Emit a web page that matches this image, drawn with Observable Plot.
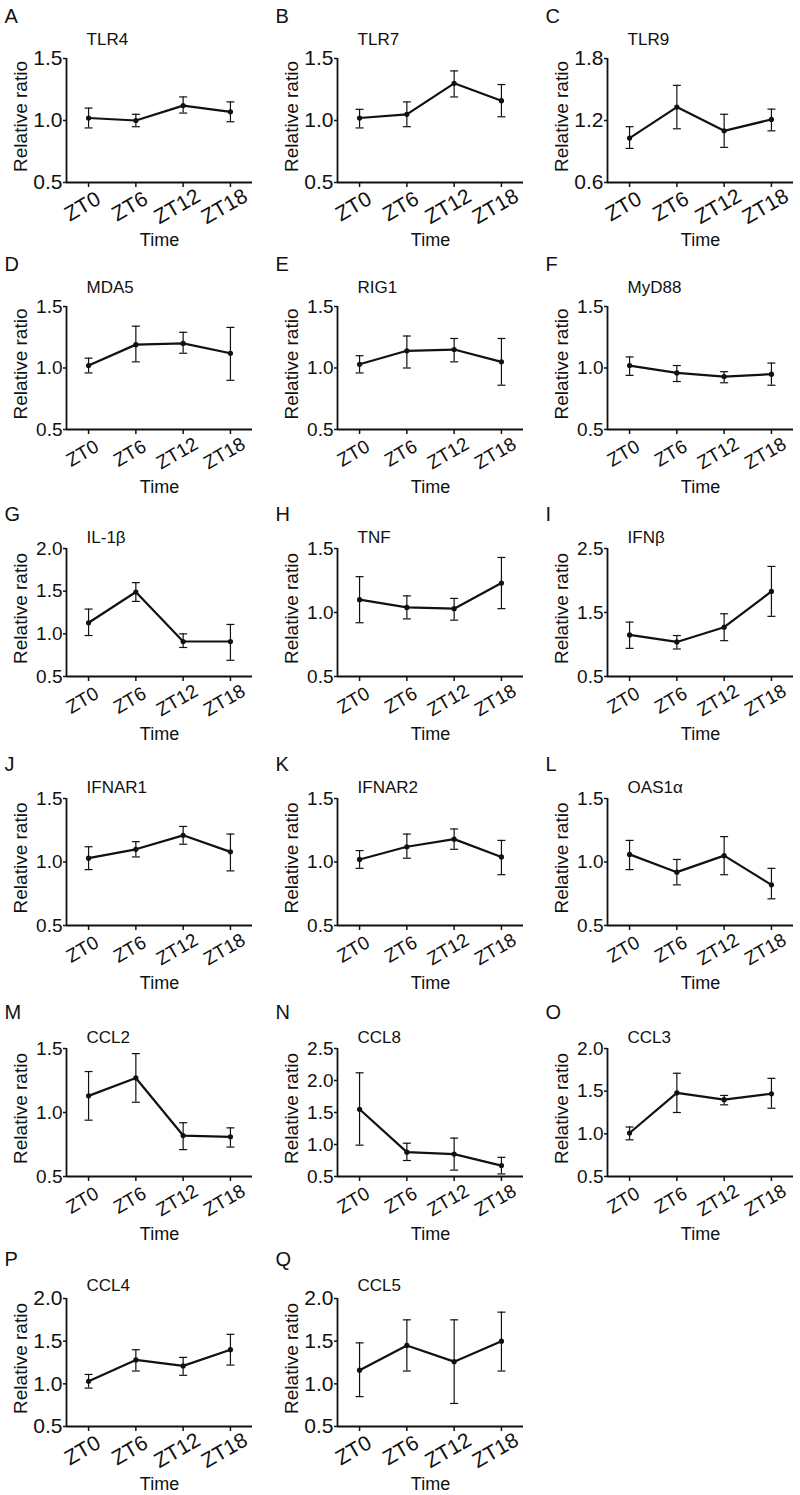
<!DOCTYPE html>
<html>
<head>
<meta charset="utf-8">
<script src="https://cdn.jsdelivr.net/npm/d3@7"></script>
<script src="https://cdn.jsdelivr.net/npm/@observablehq/plot@0.6"></script>
<style>
  html, body { margin: 0; padding: 0; background: #fff; }
  #fig { position: relative; width: 800px; height: 1495px; overflow: hidden;
         font-family: "Liberation Sans", Arial, sans-serif; color: #000; }
  #fig svg { position: absolute; overflow: visible; }
</style>
</head>
<body>
<div id="fig"></div>
<script>
// ---------------- data ----------------
const panelLetters = ["A","B","C","D","E","F","G","H","I","J","K","L","M","N","O","P","Q"];
const geneNames = ["TLR4","TLR7","TLR9","MDA5","RIG1","MyD88","IL-1β","TNF","IFNβ",
                   "IFNAR1","IFNAR2","OAS1α","CCL2","CCL8","CCL3","CCL4","CCL5"];
const timeLabels = ["ZT0","ZT6","ZT12","ZT18"];
const timeHours = [0, 6, 12, 18];
const xLabel = "Time";
const yLabel = "Relative ratio";

const meanValues = [
  [1.02, 1.00, 1.12, 1.07],  // TLR4
  [1.02, 1.05, 1.30, 1.16],  // TLR7
  [1.03, 1.33, 1.10, 1.21],  // TLR9
  [1.02, 1.19, 1.20, 1.12],  // MDA5
  [1.03, 1.14, 1.15, 1.05],  // RIG1
  [1.02, 0.96, 0.93, 0.95],  // MyD88
  [1.13, 1.49, 0.91, 0.91],  // IL-1b
  [1.10, 1.04, 1.03, 1.23],  // TNF
  [1.15, 1.04, 1.27, 1.83],  // IFNb
  [1.03, 1.10, 1.21, 1.08],  // IFNAR1
  [1.02, 1.12, 1.18, 1.04],  // IFNAR2
  [1.06, 0.92, 1.05, 0.82],  // OAS1a
  [1.13, 1.27, 0.82, 0.81],  // CCL2
  [1.55, 0.88, 0.85, 0.67],  // CCL8
  [1.01, 1.48, 1.40, 1.47],  // CCL3
  [1.03, 1.28, 1.21, 1.40],  // CCL4
  [1.16, 1.45, 1.26, 1.50]   // CCL5
];
const lowerValues = [
  [0.94, 0.95, 1.06, 0.99],
  [0.94, 0.95, 1.19, 1.03],
  [0.93, 1.12, 0.94, 1.10],
  [0.96, 1.05, 1.12, 0.90],
  [0.96, 1.00, 1.05, 0.86],
  [0.94, 0.89, 0.88, 0.86],
  [0.98, 1.38, 0.84, 0.69],
  [0.92, 0.95, 0.94, 1.03],
  [0.94, 0.93, 1.06, 1.44],
  [0.94, 1.04, 1.14, 0.93],
  [0.95, 1.03, 1.10, 0.90],
  [0.94, 0.82, 0.90, 0.71],
  [0.94, 1.08, 0.71, 0.73],
  [0.99, 0.75, 0.60, 0.54],
  [0.93, 1.25, 1.34, 1.30],
  [0.95, 1.15, 1.10, 1.22],
  [0.85, 1.15, 0.77, 1.15]
];
const upperValues = [
  [1.10, 1.05, 1.19, 1.15],
  [1.09, 1.15, 1.40, 1.29],
  [1.14, 1.54, 1.26, 1.31],
  [1.08, 1.34, 1.29, 1.33],
  [1.10, 1.26, 1.24, 1.24],
  [1.09, 1.02, 0.97, 1.04],
  [1.29, 1.60, 1.00, 1.11],
  [1.28, 1.13, 1.11, 1.43],
  [1.35, 1.14, 1.48, 2.22],
  [1.12, 1.16, 1.28, 1.22],
  [1.09, 1.22, 1.26, 1.17],
  [1.17, 1.02, 1.20, 0.95],
  [1.32, 1.46, 0.92, 0.88],
  [2.12, 1.02, 1.10, 0.80],
  [1.08, 1.71, 1.45, 1.65],
  [1.11, 1.40, 1.31, 1.58],
  [1.48, 1.75, 1.75, 1.84]
];
const yTickValues = [
  [0.5, 1.0, 1.5], [0.5, 1.0, 1.5], [0.6, 1.2, 1.8],
  [0.5, 1.0, 1.5], [0.5, 1.0, 1.5], [0.5, 1.0, 1.5],
  [0.5, 1.0, 1.5, 2.0], [0.5, 1.0, 1.5], [0.5, 1.5, 2.5],
  [0.5, 1.0, 1.5], [0.5, 1.0, 1.5], [0.5, 1.0, 1.5],
  [0.5, 1.0, 1.5], [0.5, 1.0, 1.5, 2.0, 2.5], [0.5, 1.0, 1.5, 2.0],
  [0.5, 1.0, 1.5, 2.0], [0.5, 1.0, 1.5, 2.0]
];

// ---------------- layout ----------------
const colLeft = [0, 271, 541];
const rowTop = [58, 306, 548, 798, 1048, 1298];
const rowBottom = [182, 429, 676, 925, 1176, 1426];
const titleOff = [14, 14, 6, 6, 6, 8];
const letterOff = [36, 36, 28, 28, 30, 33];
const tickFont = [21, 19, 19, 19, 19, 21];
const W = 270, ML = 66, MR = 18, MT = 50, MB = 72;
const xDomain = [-2.8, 20.8];
const ink = "#111";

const capSymbol = {
  draw(context, size) {
    const w = Math.sqrt(size / Math.PI);
    context.moveTo(-w, 0);
    context.lineTo(w, 0);
  }
};

const fig = document.getElementById("fig");

panelLetters.forEach((letter, i) => {
  const r = Math.floor(i / 3), c = i % 3;
  const h = rowBottom[r] - rowTop[r];
  const yt = yTickValues[i];
  const data = timeHours.map((t, j) => ({
    t, label: timeLabels[j],
    m: meanValues[i][j], lo: lowerValues[i][j], hi: upperValues[i][j]
  }));
  const fs = tickFont[r];

  const chart = Plot.plot({
    width: W,
    height: MT + h + MB,
    marginLeft: ML, marginRight: MR, marginTop: MT, marginBottom: MB,
    x: {domain: xDomain},
    y: {domain: [yt[0], yt[yt.length - 1]]},
    style: {fontFamily: '"Liberation Sans", Arial, sans-serif', color: ink, background: "transparent", overflow: "visible"},
    marks: [
      Plot.ruleY([yt[0]], {stroke: ink, strokeWidth: 1.8}),
      Plot.ruleX([xDomain[0]], {stroke: ink, strokeWidth: 1.8}),
      Plot.axisY({ticks: yt, tickSize: 3, tickPadding: 1, tickFormat: d3.format(".1f"),
                  fontSize: fs, label: null, strokeWidth: 1.5}),
      Plot.axisX({ticks: timeHours, tickSize: 5, tickFormat: () => "", label: null, strokeWidth: 1.5}),
      Plot.text(data, {x: "t", text: "label", frameAnchor: "bottom", rotate: -30,
                       textAnchor: "middle", lineAnchor: "middle", dx: -6, dy: 24, fontSize: fs}),
      Plot.ruleX(data, {x: "t", y1: "lo", y2: "hi", stroke: ink, strokeWidth: 1.2}),
      Plot.dot(data, {x: "t", y: "lo", symbol: capSymbol, r: 4, stroke: ink, fill: "none", strokeWidth: 1.2}),
      Plot.dot(data, {x: "t", y: "hi", symbol: capSymbol, r: 4, stroke: ink, fill: "none", strokeWidth: 1.2}),
      Plot.line(data, {x: "t", y: "m", stroke: ink, strokeWidth: 2.2}),
      Plot.dot(data, {x: "t", y: "m", r: 2.6, fill: ink}),
      Plot.text([{t: timeHours[0], name: geneNames[i]}], {x: "t", text: "name", frameAnchor: "top",
                 textAnchor: "start", lineAnchor: "bottom", dx: -2, dy: -titleOff[r], fontSize: 17}),
      Plot.text([letter], {frameAnchor: "top-left", textAnchor: "start", lineAnchor: "bottom",
                 dx: 4 - ML, dy: -letterOff[r], fontSize: 20}),
      Plot.text([yLabel], {frameAnchor: "left", rotate: -90, textAnchor: "middle", lineAnchor: "bottom",
                 dx: 26 - ML, dy: -4, fontSize: 19}),
      Plot.text([xLabel], {frameAnchor: "bottom", textAnchor: "middle", lineAnchor: "bottom",
                 dy: 63, fontSize: 18})
    ]
  });
  chart.style.left = colLeft[c] + "px";
  chart.style.top = (rowTop[r] - MT) + "px";
  fig.appendChild(chart);
});
</script>
</body>
</html>
